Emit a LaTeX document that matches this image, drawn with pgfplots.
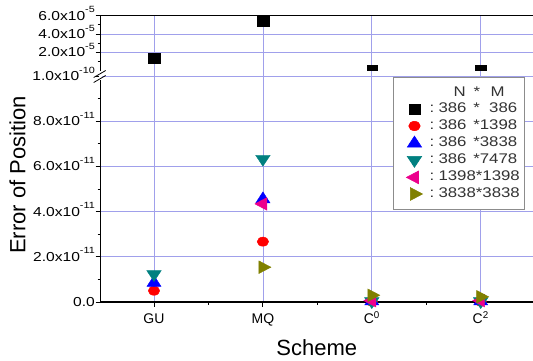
\documentclass[border=0pt]{standalone}
\usepackage{pgfplots}
\pgfplotsset{compat=1.18}
\usepackage{graphicx}
\usepackage{fontspec}
\setmainfont{Liberation Sans}
\definecolor{gridc}{RGB}{160,160,235}
\definecolor{mteal}{RGB}{0,128,128}
\definecolor{molive}{RGB}{128,128,0}
\newcommand{\lgE}[2]{\scalebox{1.2}[1]{\makebox[73pt][l]{:\hspace{3.5pt}#1\hfill *#2}}}
\newcommand{\ytl}[2]{\scalebox{1.2}[1]{#1x10\raisebox{7.5pt}{\fontsize{9}{9}\selectfont #2}}}
\begin{document}
\begin{tikzpicture}
\path[use as bounding box] (-100.7pt,-59pt) rectangle (432.3pt,302pt);
\pgfplotsset{
 common/.style={
  scale only axis, width=440pt,
  xmin=0.5106, xmax=4.551,
  xtick={1,2,3,4},
  minor xtick={1.5,2.5,3.5,4.5},
  tick align=outside,
  major tick length=5pt, minor tick length=3pt,
  grid=major,
  major grid style={gridc, line width=0.7pt},
  axis line style={black, line width=1.1pt},
  every tick/.style={black, line width=0.9pt},
  yticklabel style={font=\fontsize{13}{15}\selectfont, inner sep=0pt, anchor=base east, xshift=-0.7pt, yshift=-4.6pt},
  xticklabel style={font=\fontsize{14}{16}\selectfont, inner sep=0pt, anchor=base, yshift=-16.3pt},
  axis y line*=left,
 }
}
% bottom panel
\begin{axis}[common, at={(0pt,0pt)}, anchor=south west, height=226pt,
  axis x line*=bottom,
  ymin=0, ymax=10,
  ytick={0,2,4,6,8,10}, minor ytick={1,3,5,7,9},
  yticklabels={\scalebox{1.2}[1]{0.0}, \ytl{2.0}{-11}, \ytl{4.0}{-11}, \ytl{6.0}{-11}, \ytl{8.0}{-11}, \ytl{1.0}{-10}},
  xticklabels={GU, MQ, C\textsuperscript{0}, C\textsuperscript{2}},
  xlabel={Scheme}, ylabel={Error of Position},
  xlabel style={at={(axis description cs:0.491,-0.2035)}, anchor=center, font=\fontsize{22}{26}\selectfont},
  ylabel style={at={(axis description cs:-0.189,0.562)}, anchor=center, font=\fontsize{22}{26}\selectfont},
  legend cell align=left,
  legend image code/.code={\draw[mark repeat=2,mark phase=2,#1] plot coordinates {(0pt,0pt) (13.8pt,0pt) (27.6pt,0pt)};},
  legend style={at={(axis description cs:0.664,0.9956)}, anchor=north west,
    draw=black!45, line width=0.6pt, fill=white,
    inner xsep=7.5pt, inner ysep=9pt, column sep=7.2pt, row sep=3.6pt,
    font=\fontsize{14}{16}\selectfont, text=black!80,
    nodes={inner sep=0pt, text height=10pt, text depth=3pt}},
]
\addlegendimage{empty legend}
\addlegendimage{only marks, mark=square*, black, mark size=4.6pt, mark options={xscale=1.2}}
\addplot[only marks, mark=*, red, mark size=4.6pt, mark options={xscale=1.25}] coordinates {(1,0.50) (2,2.67) (3,0.02) (4,0.02)};
\addplot[only marks, mark=triangle*, blue, mark size=7.3pt, mark options={xscale=1.12}] coordinates {(1,0.85) (2,4.55) (3,0.03) (4,0.03)};
\addplot[only marks, mark=triangle*, mteal, mark size=7.3pt, mark options={xscale=1.15, rotate=180}] coordinates {(1,1.23) (2,6.33) (3,0.03) (4,0.03)};
\addplot[only marks, mark=triangle*, magenta, mark size=7.3pt, mark options={xscale=1.1, rotate=90}] coordinates {(2,4.34) (3,0.06) (4,0.06)};
\addplot[only marks, mark=triangle*, molive, mark size=7.3pt, mark options={xscale=1.1, rotate=-90}] coordinates {(2,1.54) (3,0.30) (4,0.23)};
\legend{{\scalebox{1.2}[1]{\makebox[73pt][l]{\hspace{20pt}N\hspace{6.4pt}*\hspace{8.9pt}M}}},
  {\lgE{386}{\phantom{0}386}}, {\lgE{386}{1398}}, {\lgE{386}{3838}}, {\lgE{386}{7478}}, {\lgE{1398}{1398}}, {\lgE{3838}{3838}}}
\end{axis}
% top panel
\begin{axis}[common, at={(0pt,226pt)}, anchor=south west, height=60.3pt,
  axis x line*=top,
  ymin=-0.59, ymax=6,
  ytick={2,4,6}, minor ytick={1,3,5},
  yticklabels={\ytl{2.0}{-5}, \ytl{4.0}{-5}, \ytl{6.0}{-5}},
  xticklabels={}, minor xtick={}, xtick style={draw=none},
]
\addplot[only marks, mark=square*, black, mark size=4.6pt, mark options={xscale=1.3}] coordinates {(1,1.35) (2,5.40)};
\addplot[only marks, mark=square*, black, mark size=4.6pt, mark options={xscale=1.1, yscale=0.55}] coordinates {(3,0.32) (4,0.32)};
\end{axis}
% axis break marks
\fill[white] (-1.6pt,221.5pt) rectangle (1.6pt,230.5pt);
\draw[line width=0.8pt] (-7pt,219.5pt) -- (5pt,226.5pt);
\draw[line width=0.8pt] (-7pt,224.5pt) -- (5pt,231.5pt);
\end{tikzpicture}
\end{document}
